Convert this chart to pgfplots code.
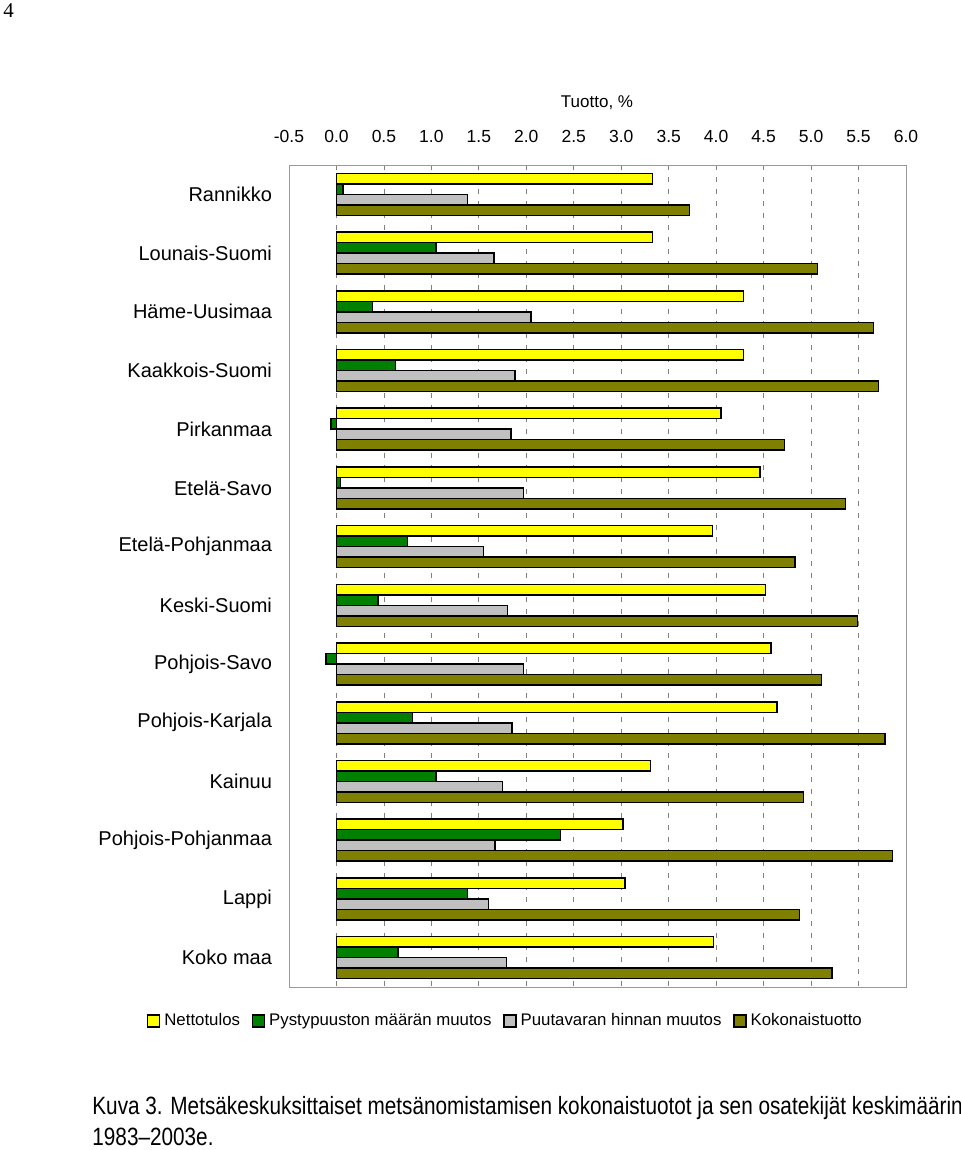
\documentclass[border=0pt]{standalone}
\usepackage{fontspec}
\setmainfont{Liberation Sans}
\newfontfamily\capfont[FakeStretch=0.83]{Liberation Sans}
\newfontfamily\pagefont{Liberation Serif}
\usepackage{pgfplots}
\pgfplotsset{compat=1.18}
\definecolor{netto}{RGB}{255,255,0}
\definecolor{pysty}{RGB}{0,128,0}
\definecolor{puuta}{RGB}{192,192,192}
\definecolor{koko}{RGB}{128,128,0}

\begin{document}
\begin{tikzpicture}[x=0.5pt,y=-0.5pt]
\path[use as bounding box] (0,0) rectangle (960,1150);
\node[anchor=north west, inner sep=0, font=\pagefont\fontsize{10.5}{12}\selectfont] at (3,3) {4};
\node[font=\fontsize{8.5}{10}\selectfont] at (597,103) {Tuotto, \%};
\begin{axis}[at={(144.5pt,-82.5pt)}, anchor=north west, scale only axis,
  width=308.5pt, height=411pt,
  xbar=0pt, bar width=5.25pt,
  xmin=-0.5, xmax=6, ymin=-0.5, ymax=13.5, y dir=reverse,
  xtick={-0.5,0,0.5,1,1.5,2,2.5,3,3.5,4,4.5,5,5.5,6},
  xticklabels={-0.5,0.0,0.5,1.0,1.5,2.0,2.5,3.0,3.5,4.0,4.5,5.0,5.5,6.0},
  xticklabel pos=top, xticklabel style={font=\fontsize{8.75}{10}\selectfont, yshift=7.5pt},
  ytick={0,...,13},
  yticklabels={Rannikko,Lounais-Suomi,Häme-Uusimaa,Kaakkois-Suomi,Pirkanmaa,Etelä-Savo,Etelä-Pohjanmaa,Keski-Suomi,Pohjois-Savo,Pohjois-Karjala,Kainuu,Pohjois-Pohjanmaa,Lappi,Koko maa},
  yticklabel style={font=\fontsize{10}{12}\selectfont, xshift=-5pt},
  major tick length=0pt,
  xmajorgrids, grid style={gray, dash pattern=on 2.5pt off 3.5pt, line width=0.4pt},
  axis line style={gray!80, line width=0.5pt},
  legend style={at={(0.3525,-0.0414)}, anchor=center, draw=none, legend columns=4,
    font=\fontsize{8.4}{10}\selectfont, /tikz/every even column/.append style={column sep=4pt}},
  legend image code/.code={\draw[#1, line width=0.6pt] (0pt,-3pt) rectangle (6pt,3pt);},
  every axis plot/.append style={draw=black, line width=0.75pt}]
\addplot[fill=netto, bar shift=7.875pt] coordinates {(3.33,0) (3.33,1) (4.29,2) (4.29,3) (4.05,4) (4.46,5) (3.96,6) (4.52,7) (4.58,8) (4.64,9) (3.31,10) (3.02,11) (3.04,12) (3.97,13)};
\addlegendentry{Nettotulos}
\addplot[fill=pysty, bar shift=2.625pt] coordinates {(0.07,0) (1.05,1) (0.38,2) (0.62,3) (-0.06,4) (0.04,5) (0.75,6) (0.44,7) (-0.11,8) (0.80,9) (1.05,10) (2.36,11) (1.38,12) (0.65,13)};
\addlegendentry{Pystypuuston määrän muutos}
\addplot[fill=puuta, bar shift=-2.625pt] coordinates {(1.38,0) (1.66,1) (2.05,2) (1.88,3) (1.84,4) (1.97,5) (1.55,6) (1.80,7) (1.97,8) (1.85,9) (1.75,10) (1.67,11) (1.60,12) (1.79,13)};
\addlegendentry{Puutavaran hinnan muutos}
\addplot[fill=koko, bar shift=-7.875pt] coordinates {(3.72,0) (5.07,1) (5.66,2) (5.71,3) (4.72,4) (5.36,5) (4.83,6) (5.49,7) (5.11,8) (5.78,9) (4.92,10) (5.86,11) (4.88,12) (5.22,13)};
\addlegendentry{Kokonaistuotto}
\end{axis}
\node[anchor=base west, inner sep=0, font=\capfont\fontsize{12.5}{14}\selectfont] at (92,1114) {Kuva 3. Metsäkeskuksittaiset metsänomistamisen kokonaistuotot ja sen osatekijät keskimäärin};
\node[anchor=base west, inner sep=0, font=\capfont\fontsize{12.5}{14}\selectfont] at (92,1145) {1983–2003e.};
\end{tikzpicture}
\end{document}
